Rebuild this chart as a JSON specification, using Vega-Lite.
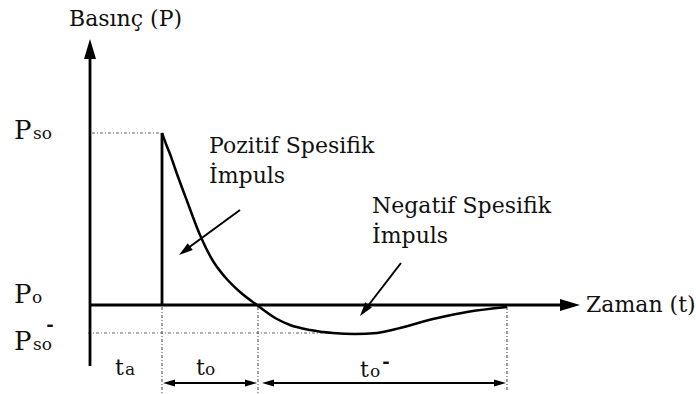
{
  "$schema": "https://vega.github.io/schema/vega-lite/v6.json",
  "width": 696,
  "height": 394,
  "autosize": {"type": "none"},
  "padding": 0,
  "background": "white",
  "config": {"view": {"stroke": null}, "text": {"font": "DejaVu Serif"}},
  "datasets": {
    "segments": [
      {"id": "yaxis", "kind": "solid", "t1": 0, "P1": -61, "t2": 0, "P2": 252},
      {"id": "xaxis", "kind": "solid", "t1": 0, "P1": 0, "t2": 475, "P2": 0},
      {"id": "rise", "kind": "solid", "t1": 72, "P1": 172, "t2": 72, "P2": 0},
      {"id": "posArrow", "kind": "thin", "t1": 150, "P1": 95, "t2": 94, "P2": 54},
      {"id": "negArrow", "kind": "thin", "t1": 311, "P1": 42, "t2": 274, "P2": -6},
      {"id": "toArrow", "kind": "thin", "t1": 78, "P1": -78, "t2": 162, "P2": -78},
      {"id": "toNegArrow", "kind": "thin", "t1": 177, "P1": -78, "t2": 411, "P2": -78},
      {"id": "psoGuide", "kind": "dotted", "t1": 2, "P1": 172, "t2": 70, "P2": 172},
      {"id": "psoNegGuide", "kind": "dotted", "t1": -2, "P1": -28, "t2": 250, "P2": -28},
      {"id": "taGuide", "kind": "dotted", "t1": 72, "P1": -2, "t2": 72, "P2": -88},
      {"id": "toGuide", "kind": "dotted", "t1": 168, "P1": -2, "t2": 168, "P2": -88},
      {"id": "endGuide", "kind": "dotted", "t1": 417, "P1": -2, "t2": 417, "P2": -86}
    ],
    "curve": [
      {"t": 72, "P": 172},
      {"t": 76, "P": 161},
      {"t": 80, "P": 151},
      {"t": 87, "P": 131},
      {"t": 97, "P": 104},
      {"t": 110, "P": 70},
      {"t": 123, "P": 44},
      {"t": 135, "P": 28},
      {"t": 150, "P": 13},
      {"t": 167, "P": 0},
      {"t": 187, "P": -14},
      {"t": 200, "P": -20},
      {"t": 220, "P": -25},
      {"t": 243, "P": -28},
      {"t": 265, "P": -29},
      {"t": 287, "P": -28},
      {"t": 310, "P": -23},
      {"t": 343, "P": -14},
      {"t": 377, "P": -7},
      {"t": 417, "P": -2}
    ],
    "heads": [
      {"kind": "up", "t": 0, "P": 266},
      {"kind": "right", "t": 490, "P": 0},
      {"kind": "left", "t": 73, "P": -78},
      {"kind": "left", "t": 172, "P": -78},
      {"kind": "rightSmall", "t": 167, "P": -78},
      {"kind": "rightSmall", "t": 416, "P": -78},
      {"kind": "dpos", "t": 89, "P": 50},
      {"kind": "dneg", "t": 270, "P": -11}
    ],
    "labels": [
      {"kind": "main", "text": "Basınç (P)", "t": -21, "P": 279},
      {"kind": "main", "text": "Pozitif Spesifik", "t": 119, "P": 152},
      {"kind": "main", "text": "İmpuls", "t": 119, "P": 122},
      {"kind": "main", "text": "Negatif Spesifik", "t": 282, "P": 92},
      {"kind": "main", "text": "İmpuls", "t": 282, "P": 62},
      {"kind": "main", "text": "Zaman (t)", "t": 496, "P": -7},
      {"kind": "main", "text": "t", "t": 25, "P": -70},
      {"kind": "main", "text": "t", "t": 106, "P": -70},
      {"kind": "main", "text": "t", "t": 270, "P": -72},
      {"kind": "sym", "text": "P", "t": -76, "P": 166},
      {"kind": "sym", "text": "P", "t": -76, "P": 2},
      {"kind": "sym", "text": "P", "t": -76, "P": -45},
      {"kind": "sub", "text": "so", "t": -57, "P": 166},
      {"kind": "sub", "text": "o", "t": -58, "P": 2},
      {"kind": "sub", "text": "so", "t": -57, "P": -45},
      {"kind": "sub", "text": "a", "t": 35, "P": -70},
      {"kind": "sub", "text": "o", "t": 115, "P": -70},
      {"kind": "sub", "text": "o", "t": 280, "P": -72},
      {"kind": "bar", "text": "-", "t": -40, "P": -21},
      {"kind": "bar", "text": "-", "t": 296, "P": -58}
    ]
  },
  "layer": [
    {
      "data": {"name": "segments"},
      "transform": [{"filter": "datum.kind === 'dotted'"}],
      "mark": {"type": "rule", "stroke": "#666666", "strokeWidth": 1.2, "strokeDash": [3, 2, 1, 2]},
      "encoding": {
        "x": {"field": "t1", "type": "quantitative", "scale": {"domain": [-90, 606], "nice": false, "zero": false}, "axis": null},
        "x2": {"field": "t2"},
        "y": {"field": "P1", "type": "quantitative", "scale": {"domain": [-89, 305], "nice": false, "zero": false}, "axis": null},
        "y2": {"field": "P2"}
      }
    },
    {
      "data": {"name": "segments"},
      "transform": [{"filter": "datum.kind === 'solid'"}],
      "mark": {"type": "rule", "stroke": "#000000", "strokeWidth": 2.8},
      "encoding": {
        "x": {"field": "t1", "type": "quantitative", "scale": {"domain": [-90, 606], "nice": false, "zero": false}, "axis": null},
        "x2": {"field": "t2"},
        "y": {"field": "P1", "type": "quantitative", "scale": {"domain": [-89, 305], "nice": false, "zero": false}, "axis": null},
        "y2": {"field": "P2"}
      }
    },
    {
      "data": {"name": "segments"},
      "transform": [{"filter": "datum.kind === 'thin'"}],
      "mark": {"type": "rule", "stroke": "#000000", "strokeWidth": 2},
      "encoding": {
        "x": {"field": "t1", "type": "quantitative", "scale": {"domain": [-90, 606], "nice": false, "zero": false}, "axis": null},
        "x2": {"field": "t2"},
        "y": {"field": "P1", "type": "quantitative", "scale": {"domain": [-89, 305], "nice": false, "zero": false}, "axis": null},
        "y2": {"field": "P2"}
      }
    },
    {
      "data": {"name": "curve"},
      "mark": {"type": "line", "stroke": "#000000", "strokeWidth": 2.5, "interpolate": "monotone"},
      "encoding": {
        "x": {"field": "t", "type": "quantitative", "scale": {"domain": [-90, 606], "nice": false, "zero": false}, "axis": null},
        "y": {"field": "P", "type": "quantitative", "scale": {"domain": [-89, 305], "nice": false, "zero": false}, "axis": null}
      }
    },
    {
      "data": {"name": "heads"},
      "transform": [{"filter": "datum.kind === 'up'"}],
      "mark": {"type": "point", "shape": "M0,0L0.6,2L-0.6,2Z", "filled": true, "color": "#000000", "opacity": 1, "size": 400, "angle": 0},
      "encoding": {
        "x": {"field": "t", "type": "quantitative", "scale": {"domain": [-90, 606], "nice": false, "zero": false}, "axis": null},
        "y": {"field": "P", "type": "quantitative", "scale": {"domain": [-89, 305], "nice": false, "zero": false}, "axis": null}
      }
    },
    {
      "data": {"name": "heads"},
      "transform": [{"filter": "datum.kind === 'right'"}],
      "mark": {"type": "point", "shape": "M0,0L0.6,2L-0.6,2Z", "filled": true, "color": "#000000", "opacity": 1, "size": 400, "angle": 90},
      "encoding": {
        "x": {"field": "t", "type": "quantitative", "scale": {"domain": [-90, 606], "nice": false, "zero": false}, "axis": null},
        "y": {"field": "P", "type": "quantitative", "scale": {"domain": [-89, 305], "nice": false, "zero": false}, "axis": null}
      }
    },
    {
      "data": {"name": "heads"},
      "transform": [{"filter": "datum.kind === 'left'"}],
      "mark": {"type": "point", "shape": "M0,0L0.6,2L-0.6,2Z", "filled": true, "color": "#000000", "opacity": 1, "size": 144, "angle": 270},
      "encoding": {
        "x": {"field": "t", "type": "quantitative", "scale": {"domain": [-90, 606], "nice": false, "zero": false}, "axis": null},
        "y": {"field": "P", "type": "quantitative", "scale": {"domain": [-89, 305], "nice": false, "zero": false}, "axis": null}
      }
    },
    {
      "data": {"name": "heads"},
      "transform": [{"filter": "datum.kind === 'rightSmall'"}],
      "mark": {"type": "point", "shape": "M0,0L0.6,2L-0.6,2Z", "filled": true, "color": "#000000", "opacity": 1, "size": 144, "angle": 90},
      "encoding": {
        "x": {"field": "t", "type": "quantitative", "scale": {"domain": [-90, 606], "nice": false, "zero": false}, "axis": null},
        "y": {"field": "P", "type": "quantitative", "scale": {"domain": [-89, 305], "nice": false, "zero": false}, "axis": null}
      }
    },
    {
      "data": {"name": "heads"},
      "transform": [{"filter": "datum.kind === 'dpos'"}],
      "mark": {"type": "point", "shape": "M0,0L0.6,2L-0.6,2Z", "filled": true, "color": "#000000", "opacity": 1, "size": 196, "angle": 233.6},
      "encoding": {
        "x": {"field": "t", "type": "quantitative", "scale": {"domain": [-90, 606], "nice": false, "zero": false}, "axis": null},
        "y": {"field": "P", "type": "quantitative", "scale": {"domain": [-89, 305], "nice": false, "zero": false}, "axis": null}
      }
    },
    {
      "data": {"name": "heads"},
      "transform": [{"filter": "datum.kind === 'dneg'"}],
      "mark": {"type": "point", "shape": "M0,0L0.6,2L-0.6,2Z", "filled": true, "color": "#000000", "opacity": 1, "size": 196, "angle": 217.7},
      "encoding": {
        "x": {"field": "t", "type": "quantitative", "scale": {"domain": [-90, 606], "nice": false, "zero": false}, "axis": null},
        "y": {"field": "P", "type": "quantitative", "scale": {"domain": [-89, 305], "nice": false, "zero": false}, "axis": null}
      }
    },
    {
      "data": {"name": "labels"},
      "transform": [{"filter": "datum.kind === 'main'"}],
      "mark": {"type": "text", "fontSize": 22, "align": "left", "baseline": "alphabetic", "color": "#111111"},
      "encoding": {
        "x": {"field": "t", "type": "quantitative", "scale": {"domain": [-90, 606], "nice": false, "zero": false}, "axis": null},
        "y": {"field": "P", "type": "quantitative", "scale": {"domain": [-89, 305], "nice": false, "zero": false}, "axis": null},
        "text": {"field": "text"}
      }
    },
    {
      "data": {"name": "labels"},
      "transform": [{"filter": "datum.kind === 'sym'"}],
      "mark": {"type": "text", "fontSize": 26, "align": "left", "baseline": "alphabetic", "color": "#111111"},
      "encoding": {
        "x": {"field": "t", "type": "quantitative", "scale": {"domain": [-90, 606], "nice": false, "zero": false}, "axis": null},
        "y": {"field": "P", "type": "quantitative", "scale": {"domain": [-89, 305], "nice": false, "zero": false}, "axis": null},
        "text": {"field": "text"}
      }
    },
    {
      "data": {"name": "labels"},
      "transform": [{"filter": "datum.kind === 'sub'"}],
      "mark": {"type": "text", "fontSize": 17, "align": "left", "baseline": "alphabetic", "color": "#111111"},
      "encoding": {
        "x": {"field": "t", "type": "quantitative", "scale": {"domain": [-90, 606], "nice": false, "zero": false}, "axis": null},
        "y": {"field": "P", "type": "quantitative", "scale": {"domain": [-89, 305], "nice": false, "zero": false}, "axis": null},
        "text": {"field": "text"}
      }
    },
    {
      "data": {"name": "labels"},
      "transform": [{"filter": "datum.kind === 'bar'"}],
      "mark": {"type": "text", "fontSize": 18, "fontWeight": "bold", "align": "center", "baseline": "middle", "color": "#111111"},
      "encoding": {
        "x": {"field": "t", "type": "quantitative", "scale": {"domain": [-90, 606], "nice": false, "zero": false}, "axis": null},
        "y": {"field": "P", "type": "quantitative", "scale": {"domain": [-89, 305], "nice": false, "zero": false}, "axis": null},
        "text": {"field": "text"}
      }
    }
  ]
}
